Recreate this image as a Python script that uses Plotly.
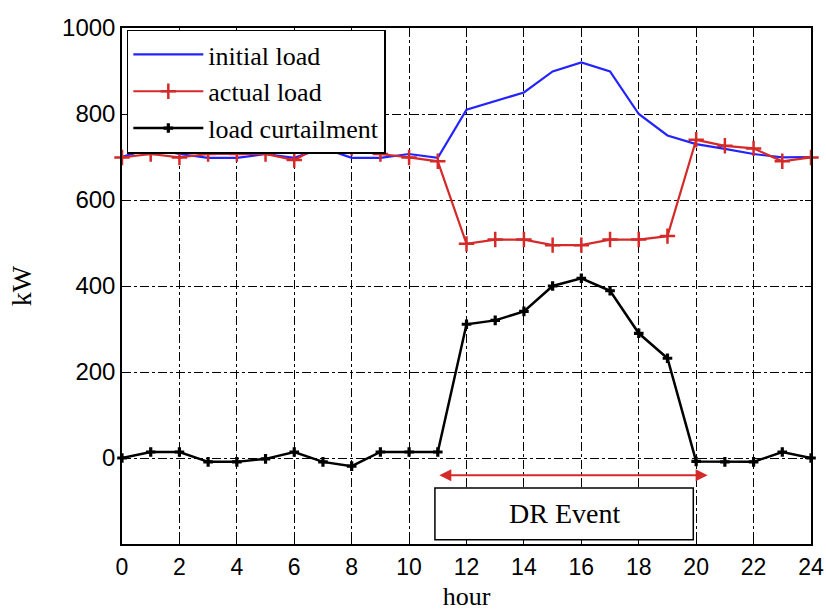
import plotly.graph_objects as go

hours = list(range(25))
initial_load = [700, 720, 707, 698, 698, 707, 698, 721, 698, 698, 707, 698,
                810, 830, 850, 899, 920, 899, 800, 750, 730, 719, 707, 699, 700]
actual_load = [699, 707, 699, 707, 707, 707, 693, 729, 721, 707, 699, 690,
               498, 508, 508, 495, 495, 508, 508, 516, 740, 726, 720, 690, 699]
curtailment = [0, 14, 14, -9, -9, -2, 14, -9, -19, 14, 14, 14,
               311, 320, 341, 400, 418, 389, 290, 232, -8, -9, -9, 14, 0]

x_ticks = list(range(0, 25, 2))
y_ticks = [0, 200, 400, 600, 800, 1000]
dr_start, dr_end = 11, 20.4
box_x0, box_x1 = 10.9, 19.9
box_y0, box_y1 = -190, -70
arrow_y = -40

serif = "Liberation Serif"
sans = "Liberation Sans"

fig = go.Figure()
fig.add_trace(go.Scatter(x=hours, y=initial_load, mode="lines", name="initial load",
                         line=dict(color="#2323ff", width=2.2), cliponaxis=False))
fig.add_trace(go.Scatter(x=hours, y=actual_load, mode="lines+markers", name="actual load",
                         line=dict(color="#d42a2a", width=2.2),
                         marker=dict(symbol="cross-thin", size=11,
                                     line=dict(color="#d42a2a", width=2.5)),
                         cliponaxis=False))
fig.add_trace(go.Scatter(x=hours, y=curtailment, mode="lines+markers", name="load curtailment",
                         line=dict(color="black", width=2.5),
                         marker=dict(symbol="cross", size=8, color="black"),
                         cliponaxis=False))

# DR event arrow
fig.add_annotation(x=dr_end, y=arrow_y, ax=dr_start, ay=arrow_y, xref="x", yref="y",
                   axref="x", ayref="y", text="", showarrow=True, arrowhead=2,
                   arrowside="end+start", arrowsize=1.2, arrowwidth=2, arrowcolor="#d42a2a")
# DR event box
fig.add_shape(type="rect", x0=box_x0, x1=box_x1, y0=box_y0, y1=box_y1, xref="x", yref="y",
              line=dict(color="black", width=1.5), fillcolor="white", layer="above")
fig.add_annotation(x=(box_x0 + box_x1) / 2, y=(box_y0 + box_y1) / 2, text="DR Event",
                   showarrow=False, font=dict(family=serif, size=28, color="black"))

axis_common = dict(showline=True, linecolor="black", linewidth=1.5, mirror="allticks",
                   ticks="inside", ticklen=6, tickcolor="black", automargin=False,
                   showgrid=True, gridcolor="black", gridwidth=1, griddash="dashdot",
                   zeroline=False)

fig.update_xaxes(range=[0, 24], tickvals=x_ticks, ticklabelstandoff=2,
                 tickfont=dict(family=sans, size=23, color="black"),
                 title=dict(text="hour", font=dict(family=serif, size=26, color="black"),
                            standoff=7),
                 **axis_common)
fig.update_yaxes(range=[-200, 1000], tickvals=y_ticks,
                 tickfont=dict(family=sans, size=24, color="black"),
                 title=dict(text="kW", font=dict(family=serif, size=28, color="black"),
                            standoff=22),
                 **axis_common)

fig.update_layout(width=826, height=611, plot_bgcolor="white", paper_bgcolor="white",
                  margin=dict(l=122, r=15, t=28, b=67),
                  showlegend=True,
                  legend=dict(x=0.007, y=0.997, xanchor="left", yanchor="top",
                              bgcolor="white", bordercolor="black", borderwidth=1.5,
                              font=dict(family=serif, size=26, color="black"),
                              tracegroupgap=0, itemwidth=70))

fig.write_html("out.html", config={"displayModeBar": False},
               post_script="document.body.style.margin='0px';"
                           "document.body.style.overflow='hidden';")
